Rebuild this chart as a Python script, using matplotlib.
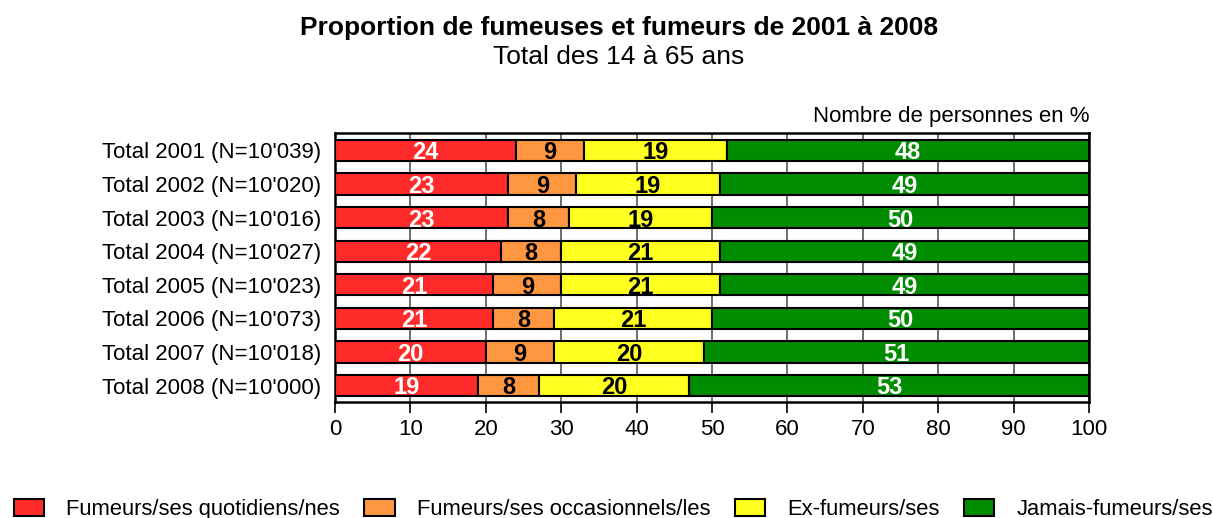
import numpy as np
import matplotlib.pyplot as plt

plt.rcParams['font.family'] = ['Liberation Sans', 'DejaVu Sans']

years = ["Total 2001 (N=10'039)", "Total 2002 (N=10'020)", "Total 2003 (N=10'016)",
         "Total 2004 (N=10'027)", "Total 2005 (N=10'023)", "Total 2006 (N=10'073)",
         "Total 2007 (N=10'018)", "Total 2008 (N=10'000)"]
quotidiens = [24, 23, 23, 22, 21, 21, 20, 19]
occasionnels = [9, 9, 8, 8, 9, 8, 9, 8]
ex_fumeurs = [19, 19, 19, 21, 21, 21, 20, 20]
jamais = [48, 49, 50, 49, 49, 50, 51, 53]

series = [
    ("Fumeurs/ses quotidiens/nes", quotidiens, "#ff2a2a", "white"),
    ("Fumeurs/ses occasionnels/les", occasionnels, "#ff9640", "black"),
    ("Ex-fumeurs/ses", ex_fumeurs, "#ffff20", "black"),
    ("Jamais-fumeurs/ses", jamais, "#008c00", "white"),
]

fig = plt.figure(figsize=(12.13, 5.18), dpi=100)
ax = fig.add_axes([0.2762, 0.2239, 0.6216, 0.5193])

y = np.arange(len(years))
left = np.zeros(len(years))
for name, vals, color, tcolor in series:
    vals = np.array(vals, dtype=float)
    ax.barh(y, vals, left=left, height=0.63, color=color, edgecolor="black",
            linewidth=1.5, label=name, zorder=3)
    for yi, (l, v) in enumerate(zip(left, vals)):
        ax.text(l + v / 2, yi + 0.07, f"{int(v)}", ha="center", va="center",
                color=tcolor, fontsize=17, fontweight="bold", zorder=4)
    left += vals

ax.set_xlim(0, 100)
ax.set_ylim(len(years) - 0.51, -0.52)
ax.set_xticks(np.arange(0, 101, 10))
ax.set_yticks(y)
ax.set_yticklabels(years)
ax.tick_params(axis="y", length=0, pad=10, labelsize=16)
ax.tick_params(axis="x", length=8, width=1.2, labelsize=16, direction="out", pad=4)
ax.xaxis.grid(True, color="#555555", linewidth=1.2, zorder=0)
ax.set_axisbelow(True)
for s in ax.spines.values():
    s.set_linewidth(1.8)

fig.text(0.51, 0.945, "Proportion de fumeuses et fumeurs de 2001 à 2008",
         ha="center", va="center", fontsize=19, fontweight="bold")
fig.text(0.51, 0.889, "Total des 14 à 65 ans", ha="center", va="center", fontsize=19)
fig.text(0.8978, 0.776, "Nombre de personnes en %", ha="right", va="center", fontsize=16)

fig.legend(loc="lower left", bbox_to_anchor=(0.0095, -0.008), ncol=4, frameon=False,
           fontsize=15.8, handlelength=1.4, handleheight=0.8, columnspacing=1.1,
           handletextpad=1.0, borderpad=0.1, borderaxespad=0.0)

fig.savefig("out.png", dpi=100)
